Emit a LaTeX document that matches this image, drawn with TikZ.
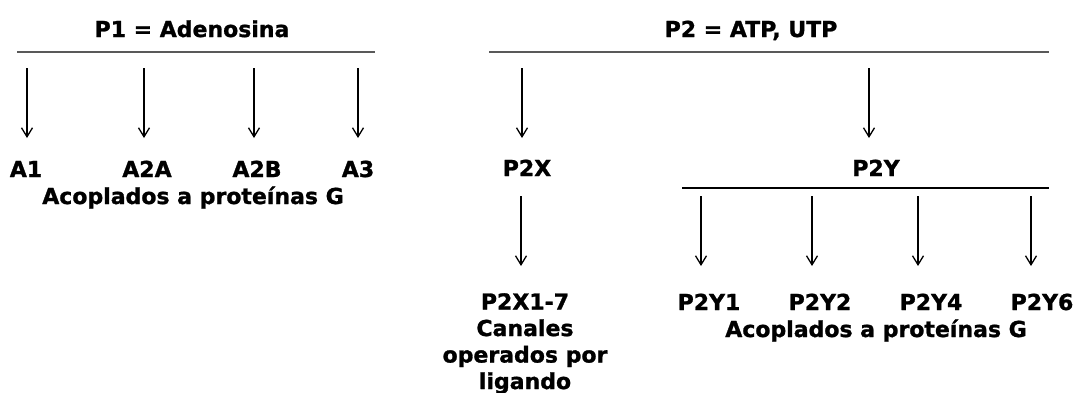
\documentclass[tikz,border=0pt]{standalone}
\usepackage{fontspec}
\setmainfont{DejaVu Sans}[BoldFeatures={FakeBold=1.2}]
\usetikzlibrary{arrows.meta}

\begin{document}
\begin{tikzpicture}
        [x=1pt, y=-1pt,
        lbl/.style={font=\fontsize{22}{27}\selectfont\bfseries, inner sep=0pt, anchor=base},
        block/.style={font=\fontsize{22}{26.5}\selectfont\bfseries, inner sep=0pt, anchor=north, align=center},
        arr/.style={line width=1.3pt, black, -{Straight Barb[length=9pt, width=11pt, line width=1.3pt]}},
        bar/.style={line width=2.2pt, black!65},
        subbar/.style={line width=2.2pt, black}]

        \useasboundingbox (0,0) rectangle (1076,392);

        % headings
        \node[lbl] (p1) at (192,37) {P1 = Adenosina};
        \node[lbl] (p2) at (751,37) {P2 = ATP, UTP};

        % bars below the headings
        \coordinate (p1l) at (17,52);
        \coordinate (p1r) at (375,52);
        \coordinate (p2l) at (489,52);
        \coordinate (p2r) at (1049,52);
        \draw[bar] (p1l) -- (p1r);
        \draw[bar] (p2l) -- (p2r);

        % P1 receptors
        \node[lbl] (a1) at (26,177) {A1};
        \node[lbl] (a2a) at (147,177) {A2A};
        \node[lbl] (a2b) at (257,177) {A2B};
        \node[lbl] (a3) at (358,177) {A3};
        \node[lbl] (g1) at (193,204) {Acoplados a proteínas G};

        \coordinate (sa1) at (27,68);
        \coordinate (sa2a) at (144,68);
        \coordinate (sa2b) at (254,68);
        \coordinate (sa3) at (358,68);
        \draw[arr] (sa1) -- ++(0,70);
        \draw[arr] (sa2a) -- ++(0,70);
        \draw[arr] (sa2b) -- ++(0,70);
        \draw[arr] (sa3) -- ++(0,70);

        % P2 receptors
        \node[lbl] (p2x) at (527,176) {P2X};
        \node[lbl] (p2y) at (876,176) {P2Y};
        \coordinate (sx) at (522,68);
        \coordinate (sy) at (869,68);
        \draw[arr] (sx) -- ++(0,70);
        \draw[arr] (sy) -- ++(0,70);

        % P2X subtypes
        \node[block] (p2xs) at (525,293) {P2X1-7\\Canales\\operados por\\ligando};
        \coordinate (sx2) at (521,196);
        \draw[arr] (sx2) -- ++(0,70);

        % P2Y subtypes
        \coordinate (p2yl) at (682,188);
        \coordinate (p2yr) at (1049,188);
        \draw[subbar] (p2yl) -- (p2yr);

        \node[lbl] (y1) at (709,310) {P2Y1};
        \node[lbl] (y2) at (820,310) {P2Y2};
        \node[lbl] (y4) at (931,310) {P2Y4};
        \node[lbl] (y6) at (1042,310) {P2Y6};
        \node[lbl] (g2) at (876,337) {Acoplados a proteínas G};

        \coordinate (sy1) at (701,196);
        \coordinate (sy2) at (812,196);
        \coordinate (sy4) at (918,196);
        \coordinate (sy6) at (1031,196);
        \draw[arr] (sy1) -- ++(0,70);
        \draw[arr] (sy2) -- ++(0,70);
        \draw[arr] (sy4) -- ++(0,70);
        \draw[arr] (sy6) -- ++(0,70);

        \end{tikzpicture}
\end{document}
